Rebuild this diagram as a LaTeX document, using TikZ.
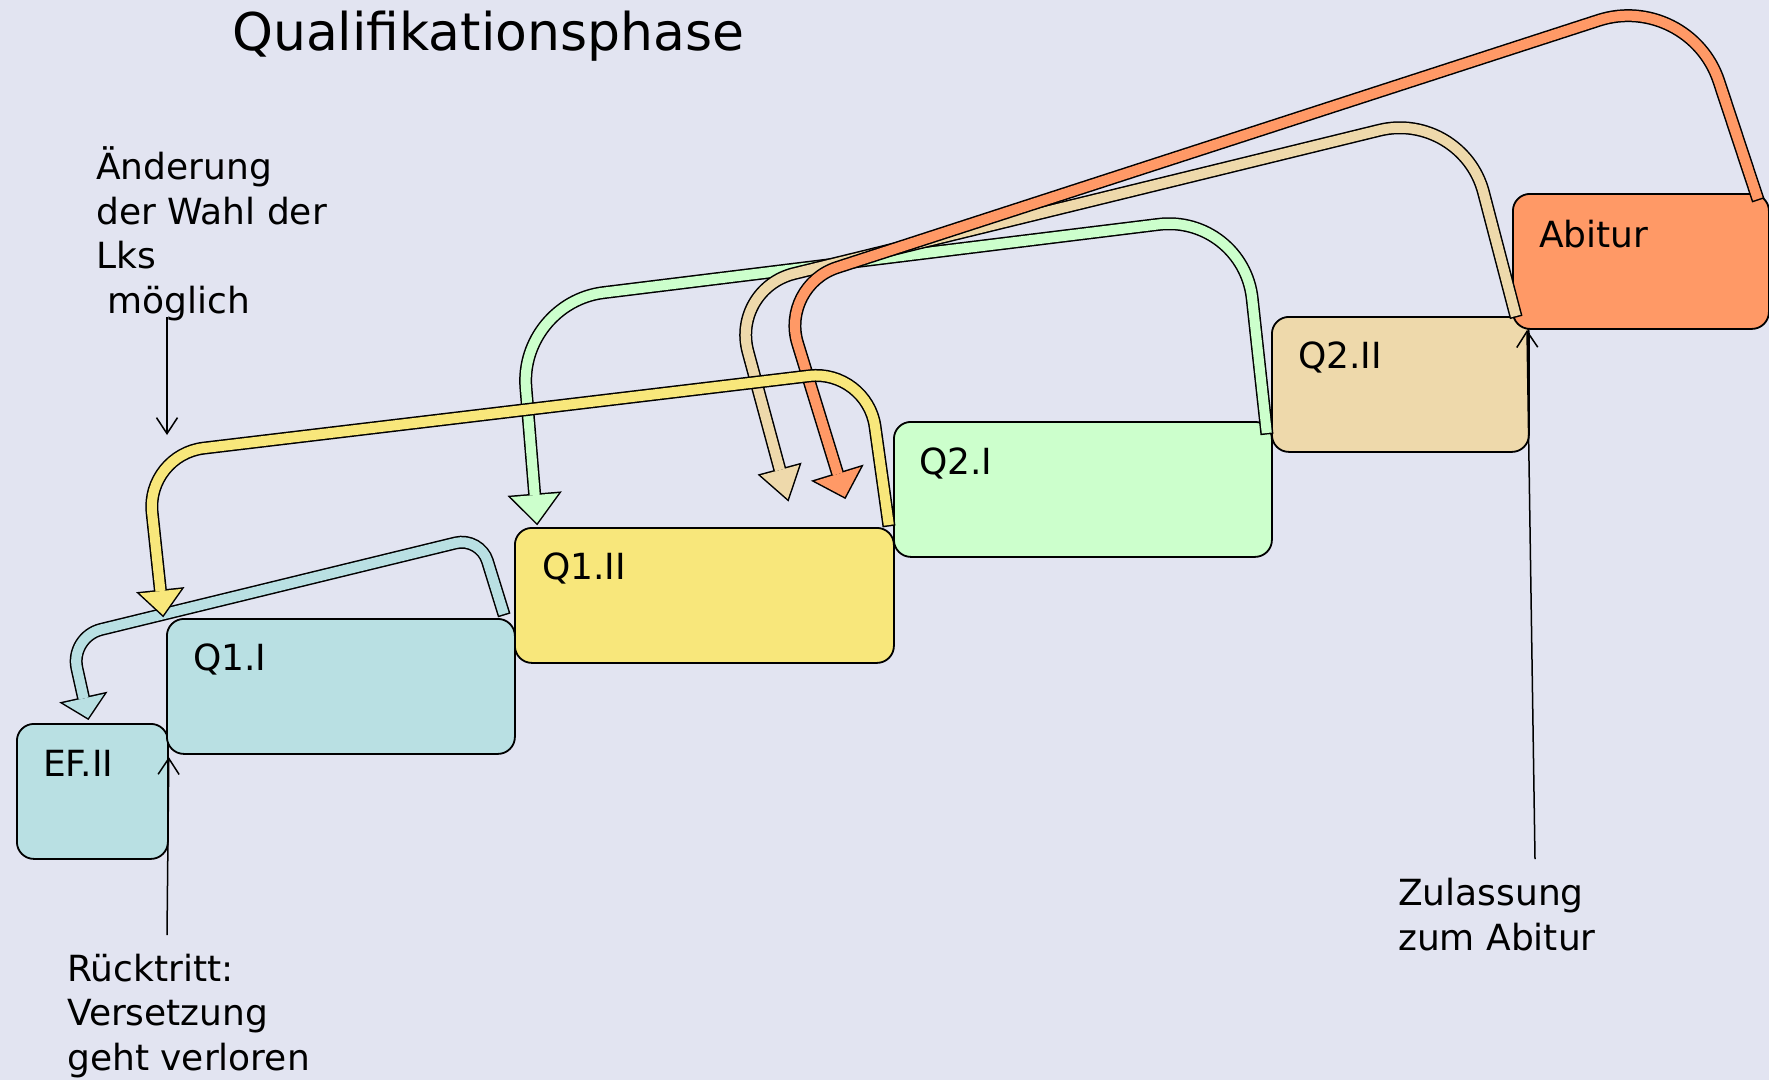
\documentclass[tikz,border=0pt]{standalone}
\usepackage{fontspec}
\setmainfont{DejaVu Sans}
\usetikzlibrary{calc,arrows.meta}
\definecolor{bg}{HTML}{E2E4F1}
\definecolor{cyanbox}{HTML}{B9E0E3}
\definecolor{yellowbox}{HTML}{F8E77B}
\definecolor{greenbox}{HTML}{CCFFCC}
\definecolor{tanbox}{HTML}{EED9AB}
\definecolor{orangebox}{HTML}{FF9966}
\tikzset{
  box/.style={draw=black, line width=1.8pt, rounded corners=17pt, minimum height=135pt, anchor=north west, inner sep=0pt},
  lbl/.style={font=\fontsize{36}{44.5}\selectfont, inner sep=0pt, anchor=base west, align=left},
  thinarr/.style={line width=1.5pt, -{Straight Barb[length=16pt,width=21pt]}}
}
% #1 colour, #2 path through corners, #3 last corner, #4 tip, #5 head length, #6 head half width
\newcommand\fatarrow[6]{%
  \path ($(#4)!#5!(#3)$) coordinate (hb)
        ($(hb)!#6!90:(#4)$) coordinate (hl)
        ($(hb)!#6!-90:(#4)$) coordinate (hr);
  \draw[line width=13pt, black, shorten <=-1.5pt] #2 -- (hb);
  \filldraw[black, line width=3pt, line join=miter] (hl) -- (#4) -- (hr) -- cycle;
  \draw[line width=10pt, #1] #2 -- (hb);
  \fill[#1] (hl) -- (#4) -- (hr) -- cycle;
}
\begin{document}
\begin{tikzpicture}[x=1pt,y=-1pt]
\useasboundingbox (0,0) rectangle (1769,1080);
\fill[bg] (0,0) rectangle (1769,1080);

% boxes
\node[box, fill=cyanbox, minimum width=151pt] (EF) at (16,723) {};
\node[box, fill=cyanbox, minimum width=348pt] (Q1I) at (166,618) {};
\node[box, fill=yellowbox, minimum width=379pt] (Q1II) at (514,527) {};
\node[box, fill=greenbox, minimum width=378pt] (Q2I) at (893,421) {};
\node[box, fill=tanbox, minimum width=257pt] (Q2II) at (1271,316) {};
\node[box, fill=orangebox, minimum width=256pt] (Abi) at (1512,193) {};

\node[lbl] (EFt) at ($(EF.north west)+(27,53)$) {EF.II};
\node[lbl] (Q1It) at ($(Q1I.north west)+(27,52)$) {Q1.I};
\node[lbl] (Q1IIt) at ($(Q1II.north west)+(28,52)$) {Q1.II};
\node[lbl] (Q2It) at ($(Q2I.north west)+(26,53)$) {Q2.I};
\node[lbl] (Q2IIt) at ($(Q2II.north west)+(27,52)$) {Q2.II};
\node[lbl] (Abit) at ($(Abi.north west)+(27,54)$) {Abitur};

% texts (base anchor = baseline of the last line)
\node[lbl, font=\fontsize{52}{60}\selectfont] (title) at (232,50) {Qualifikationsphase};
\node[lbl] (lks) at (96,313) {Änderung\\der Wahl der\\Lks\\~möglich};
\node[lbl] (rueck) at (67,1070) {Rücktritt:\\Versetzung\\geht verloren};
\node[lbl] (zul) at (1398,950) {Zulassung\\zum Abitur};

% fat arrows: green
\coordinate (grS) at ($(Q2I.north east)+(-6,12)$);
\coordinate (grA) at (1243,214);
\coordinate (grB) at (519,303);
\coordinate (grT) at ($(Q1II.north west)+(23,-4)$);
\fatarrow{greenbox}{(grS) [rounded corners=85pt] -- (grA) -- (grB)}{grB}{grT}{28pt}{24pt}

% tan
\coordinate (tnS) at ($(Q2II.north east)+(-14,0)$);
\coordinate (tnA) at (1462,110);
\coordinate (tnB) at (731,289);
\coordinate (tnT) at ($(Q1II.north east)+(-107,-28)$);
\fatarrow{tanbox}{(tnS) [rounded corners=85pt] -- (tnA) [rounded corners=65pt] -- (tnB)}{tnB}{tnT}{30pt}{20pt}

% orange
\coordinate (orS) at ($(Abi.north east)+(-12,6)$);
\coordinate (orA) at (1689,-9);
\coordinate (orB) at (780,286);
\coordinate (orT) at ($(Q1II.north east)+(-50,-30)$);
\fatarrow{orangebox}{(orS) [rounded corners=95pt] -- (orA) [rounded corners=60pt] -- (orB)}{orB}{orT}{24pt}{24pt}

% cyan
\coordinate (cyS) at ($(Q1I.north east)+(-12,-4)$);
\coordinate (cyA) at (480,537);
\coordinate (cyB) at (70,637);
\coordinate (cyT) at ($(EF.north west)+(72,-5)$);
\fatarrow{cyanbox}{(cyS) [rounded corners=25pt] -- (cyA) [rounded corners=32pt] -- (cyB)}{cyB}{cyT}{20pt}{21pt}

% yellow
\coordinate (ylS) at ($(Q1II.north east)+(-6,-2)$);
\coordinate (ylA) at (867,369);
\coordinate (ylB) at (146,455);
\coordinate (ylT) at ($(Q1I.north west)+(-3,-3)$);
\fatarrow{yellowbox}{(ylS) [rounded corners=58pt] -- (ylA) -- (ylB)}{ylB}{ylT}{24pt}{21pt}

% thin arrows
\coordinate (a1s) at (167,317);
\coordinate (a1e) at (167,435);
\draw[thinarr] (a1s) -- (a1e);
\coordinate (a2s) at (167,935);
\coordinate (a2e) at (EF.north east |- 0,757);
\draw[thinarr] (a2s) -- (a2e);
\coordinate (a3s) at (1535,859);
\coordinate (a3e) at (1527,330);
\draw[thinarr] (a3s) -- (a3e);
\end{tikzpicture}
\end{document}
